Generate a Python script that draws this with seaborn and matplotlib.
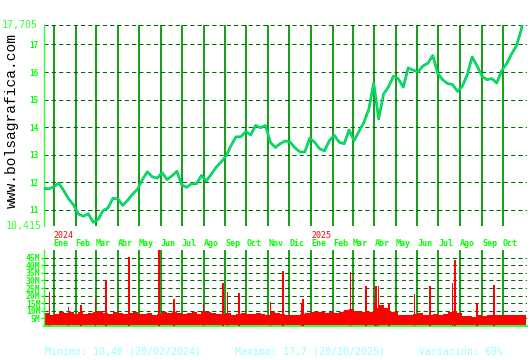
import numpy as np
import pandas as pd
import matplotlib
matplotlib.use("Agg")
import matplotlib.pyplot as plt
import matplotlib.transforms as mtransforms
import seaborn as sns

# ---------------- data ----------------
price_start = "2023-12-18"          # weekly samples, every 7 days
price_values = [
    11.78, 11.76, 11.84, 11.97, 11.70, 11.40, 11.18, 10.85, 10.77, 10.86,
    10.55, 10.65, 10.97, 11.07, 11.42, 11.40, 11.16, 11.35, 11.57, 11.75,
    12.10, 12.38, 12.20, 12.15, 12.35, 12.10, 12.23, 12.40, 11.90, 11.82,
    11.95, 11.95, 12.25, 12.05, 12.30, 12.55, 12.74, 12.95, 13.33, 13.65,
    13.65, 13.84, 13.72, 14.06, 13.98, 14.06, 13.45, 13.26, 13.40, 13.50,
    13.46, 13.25, 13.10, 13.10, 13.60, 13.45, 13.22, 13.14, 13.52, 13.70,
    13.45, 13.40, 13.90, 13.50, 13.85, 14.17, 14.65, 15.60, 14.30, 15.20,
    15.46, 15.85, 15.75, 15.45, 16.15, 16.07, 16.00, 16.22, 16.32, 16.60,
    15.95, 15.72, 15.58, 15.55, 15.30, 15.48, 15.90, 16.55, 16.22, 15.85,
    15.72, 15.76, 15.60, 16.05, 16.30, 16.65, 16.95, 17.55,
]
last_date = "2025-10-28"
last_price = 17.70

# weekly base volume (millions)
vol_base = [
    8.5, 7.5, 8.0, 9.5, 8.5, 9.0, 8.0, 9.5, 8.0, 8.5,
    9.5, 10.0, 8.5, 8.0, 9.0, 8.5, 8.0, 8.5, 9.0, 8.0,
    8.0, 8.5, 7.5, 8.0, 9.0, 8.5, 9.5, 8.5, 8.0, 8.5,
    9.0, 8.0, 10.0, 9.0, 8.5, 8.0, 8.0, 8.5, 7.5, 8.0,
    8.5, 8.0, 8.0, 8.5, 8.0, 7.5, 9.0, 8.5, 8.0, 7.5,
    7.0, 7.5, 8.0, 8.5, 9.0, 9.5, 9.0, 8.5, 9.0, 8.5,
    9.5, 10.5, 11.0, 10.0, 9.5, 9.0, 9.0, 12.0, 14.0, 12.0,
    9.0, 9.5, 7.5, 7.0, 7.5, 8.0, 8.5, 7.5, 7.5, 8.0,
    7.5, 8.0, 9.0, 9.5, 8.5, 6.5, 6.5, 6.0, 7.0, 6.5,
    7.5, 7.0, 7.5, 7.0, 7.5, 7.5, 7.0, 7.5,
]
spike_dates = [
    "2023-12-26", "2024-01-22", "2024-02-09", "2024-02-29", "2024-03-15",
    "2024-04-17", "2024-05-30", "2024-06-20", "2024-08-01", "2024-08-29",
    "2024-09-04", "2024-09-20", "2024-11-04", "2024-11-22", "2024-12-18",
    "2024-12-20", "2025-02-26", "2025-03-20", "2025-04-01", "2025-04-03",
    "2025-04-07", "2025-04-22", "2025-05-28", "2025-06-19", "2025-07-21",
    "2025-07-25", "2025-08-25", "2025-09-18",
]
spike_values = [
    22.6, 12.7, 13.5, 18.0, 30.0,
    45.6, 50.0, 18.0, 15.0, 28.0,
    22.6, 22.0, 16.0, 36.0, 15.0,
    18.0, 35.7, 26.0, 16.0, 26.0,
    26.0, 15.0, 21.0, 26.0, 28.0,
    43.4, 15.0, 27.0,
]

month_names = ["Ene", "Feb", "Mar", "Abr", "May", "Jun",
               "Jul", "Ago", "Sep", "Oct", "Nov", "Dic"]
price_ticks = [11, 12, 13, 14, 15, 16, 17]
y_min, y_max = 10.415, 17.705
vol_ticks = [5, 10, 15, 20, 25, 30, 35, 40, 45]
vol_max = 50
x_start, x_end = "2023-12-18", "2025-11-04"
footer = ["Minimo: 10,48 (28/02/2024)",
          "Maximo: 17,7 (28/10/2025)",
          "Variación: 69%"]

# ---------------- styling ----------------
sns.set_style("white")
plt.rcParams["font.family"] = ["DejaVu Sans Mono", "DejaVu Sans"]

LIME = "#00ff00"
GRID = "#006600"
VLINE = "#009900"
TEAL = "#00aabb"
RED = "#ff0000"
CYAN = "#99ffff"

W, H = 530, 360
fig = plt.figure(figsize=(W / 100, H / 100), dpi=100)
fig.patch.set_facecolor("white")
ax = fig.add_axes([44 / W, 1 - 226 / H, 483 / W, 201 / H])
axv = fig.add_axes([44 / W, 1 - 326 / H, 483 / W, 76 / H], sharex=ax)

xs = pd.Timestamp(x_start)
xe = pd.Timestamp(x_end)
months = pd.date_range("2024-01-01", "2025-10-01", freq="MS")

# price
dates = list(pd.date_range(price_start, periods=len(price_values), freq="7D")) + [pd.Timestamp(last_date)]
df = pd.DataFrame({"date": dates, "price": price_values + [last_price]})

for a in (ax, axv):
    a.set_facecolor("white")
    for m in months:
        a.axvline(m, color=VLINE, lw=1.3, zorder=1)

for v in [y_min] + price_ticks + [y_max]:
    ax.axhline(v, color=GRID, lw=0.75, ls=(0, (4, 3)), zorder=1)

sns.lineplot(data=df, x="date", y="price", ax=ax, color=TEAL, lw=1.9, zorder=3)
sns.lineplot(data=df, x="date", y="price", ax=ax, color=LIME, lw=0.9, zorder=4)

ax.set_ylim(y_min, y_max)
ax.set_xlim(xs, xe)
ax.set_yticks(price_ticks)
ax.set_yticklabels([str(t) for t in price_ticks], fontweight="bold")
ax.tick_params(axis="y", length=0, pad=4, labelsize=5.5, labelcolor=LIME)
ax.tick_params(axis="x", length=0, labelbottom=False)
ax.set_xlabel("")
ax.set_ylabel("")
for s in ["top", "right", "bottom"]:
    ax.spines[s].set_visible(False)
ax.spines["left"].set_color("#33ff33")
ax.spines["left"].set_linewidth(1.0)

# extreme labels
btr = mtransforms.blended_transform_factory(ax.transAxes, ax.transData)
ax.text(-0.012, y_max, "17,705", transform=btr, ha="right", va="center", fontsize=7.2, color="#33ff33")
ax.text(-0.005, y_min, "10,415", transform=btr, ha="right", va="center", fontsize=7.2, color="#33ff33")

# volume
for v in vol_ticks:
    axv.axhline(v, color=GRID, lw=0.75, ls=(0, (4, 3)), zorder=1)
week_dates = pd.date_range(price_start, periods=len(vol_base), freq="7D")
axv.bar(week_dates, vol_base, width=7, align="edge", color=RED, lw=0, antialiased=False, zorder=2)
axv.bar(pd.to_datetime(spike_dates), spike_values, width=2.3, color=RED, lw=0, antialiased=False, zorder=3)
axv.set_ylim(0, vol_max)
axv.set_xlim(xs, xe)
axv.set_yticks(vol_ticks)
axv.set_yticklabels([f"{v}M" for v in vol_ticks], fontweight="bold")
axv.tick_params(axis="y", length=2, width=1, color=LIME, pad=0.5, labelsize=5.8, labelcolor=LIME, left=True)
axv.tick_params(axis="x", length=0, labelbottom=False)
for s in ["top", "right"]:
    axv.spines[s].set_visible(False)
axv.spines["left"].set_color("#33ff33")
axv.spines["bottom"].set_color("#33ff33")
axv.spines["bottom"].set_linewidth(1.5)
axv.spines["left"].set_linewidth(1.0)

# month / year labels between panels
tr = mtransforms.blended_transform_factory(ax.transData, fig.transFigure)
for m in months:
    ax.text(m, 1 - 243.5 / H, month_names[m.month - 1], transform=tr, ha="left", va="center",
            fontsize=6, fontweight="bold", color=LIME, clip_on=False)
    if m.month == 1:
        ax.text(m, 1 - 236 / H, str(m.year), transform=tr, ha="left", va="center",
                fontsize=6, color=RED, clip_on=False)

# watermark and footer
fig.text(12 / W, 1 - 121 / H, "www.bolsagrafica.com", rotation=90, ha="center", va="center",
         fontsize=10.5, color="black", family=["Liberation Mono", "DejaVu Sans Mono"])
for x0, t in zip([45, 235, 419], footer):
    fig.text(x0 / W, 1 - 352 / H, t, ha="left", va="center", fontsize=7.2, color=CYAN)

fig.savefig("out.png", dpi=100, facecolor="white")
